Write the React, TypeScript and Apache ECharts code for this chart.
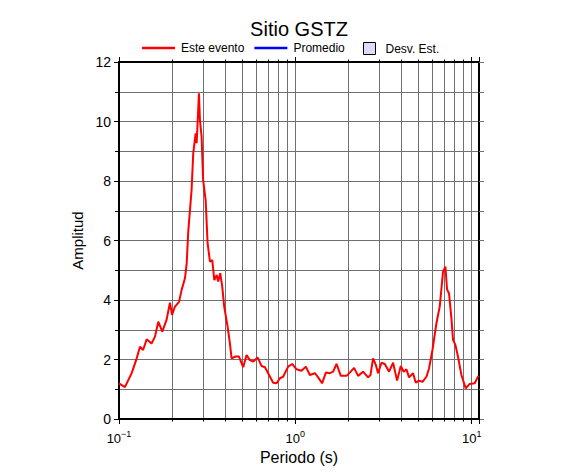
import React, { useEffect, useRef } from "react";
import * as echarts from "echarts";

const TITLE = "Sitio GSTZ";
const SERIES_NAMES = ["Este evento", "Promedio", "Desv. Est."];
const X_NAME = "Periodo (s)";
const Y_NAME = "Amplitud";
const X_MIN = 0.1;
const X_MAX = 11;
const Y_MIN = 0;
const Y_MAX = 12;
const Y_INTERVAL = 2;

const periods = [
  0.1, 0.108, 0.118, 0.126, 0.1315, 0.137, 0.1435, 0.153, 0.16, 0.167, 0.176, 0.186, 0.1945,
  0.2, 0.2076, 0.219, 0.2266, 0.2366, 0.242, 0.247, 0.258, 0.2636, 0.272, 0.2756, 0.279, 0.284,
  0.2877, 0.294, 0.3, 0.31, 0.318, 0.328, 0.338, 0.347, 0.358, 0.365, 0.375, 0.385, 0.395,
  0.413, 0.4255, 0.435, 0.458, 0.479, 0.506, 0.529, 0.552, 0.577, 0.611, 0.6435, 0.672, 0.701,
  0.7485, 0.783, 0.817, 0.853, 0.91, 0.959, 1.016, 1.084, 1.147, 1.208, 1.29, 1.347, 1.418,
  1.489, 1.569, 1.638, 1.712, 1.811, 1.95, 2.036, 2.153, 2.269, 2.422, 2.585, 2.668, 2.759,
  2.858, 2.945, 3.079, 3.215, 3.4, 3.583, 3.775, 3.961, 4.119, 4.266, 4.414, 4.65, 4.817,
  5.029, 5.257, 5.538, 5.73, 5.99, 6.31, 6.588, 6.878, 7.096, 7.246, 7.437, 7.674, 7.837,
  8.085, 8.364, 8.742, 9.247, 9.743, 10.4, 10.91,
];

const amplitudes = [
  1.2, 1.07, 1.54, 2.04, 2.43, 2.32, 2.68, 2.54, 2.77, 3.27, 2.94, 3.33, 3.91,
  3.5, 3.78, 3.94, 4.34, 4.73, 5.23, 6.3, 7.7, 8.93, 9.6, 9.27, 9.94, 10.95,
  10.05, 9.49, 8.03, 7.36, 5.9, 5.29, 5.34, 4.67, 4.84, 4.62, 4.9, 4.45, 3.78,
  3.1, 2.54, 2.04, 2.1, 2.1, 1.74, 2.15, 1.98, 1.93, 2.07, 1.78, 1.74, 1.54,
  1.22, 1.2, 1.37, 1.42, 1.76, 1.85, 1.67, 1.62, 1.76, 1.48, 1.54, 1.4, 1.2,
  1.56, 1.54, 1.59, 1.85, 1.45, 1.45, 1.56, 1.72, 1.45, 1.59, 1.4, 1.48, 2.04,
  1.82, 1.54, 1.89, 1.85, 1.59, 1.89, 1.29, 1.78, 1.59, 1.67, 1.4, 1.54, 1.22,
  1.29, 1.25, 1.42, 1.7, 2.32, 3.22, 3.78, 4.95, 5.12, 4.36, 4.22, 3.38, 2.66,
  2.49, 2.09, 1.48, 1.03, 1.18, 1.2, 1.45,
];

const FONT = "Liberation Sans, Arial, Helvetica, sans-serif";
const GRID_COLOR = "#707070";
const LINE_ICON = "path://M0,0H33V2.5H0Z";

function decadeLabel(v: number): string {
  const l = Math.log10(v);
  const e = Math.round(l);
  if (Math.abs(l - e) > 1e-6) return "";
  const sup = e < 0 ? "\u2212" + String(-e) : String(e);
  return `{b|10}{s|${sup}}`;
}

export default function App() {
  const ref = useRef<HTMLDivElement>(null);

  useEffect(() => {
    document.body.style.margin = "0";
    const chart = echarts.init(ref.current!, null, { renderer: "svg" });

    const data = periods.map((p, i) => [p, amplitudes[i]]);

    const xBase = {
      type: "log" as const,
      logBase: 10,
      min: X_MIN,
      max: X_MAX,
      axisLine: { show: true, onZero: false, lineStyle: { color: "#000", width: 2 } },
      axisTick: { show: true, length: 5, lineStyle: { color: "#000", width: 1 } },
      minorTick: { show: true, splitNumber: 9, length: 2.5, lineStyle: { color: "#000", width: 1 } },
    };

    const yBase = {
      type: "value" as const,
      min: Y_MIN,
      max: Y_MAX,
      interval: Y_INTERVAL,
      axisLine: { show: true, onZero: false, lineStyle: { color: "#000", width: 2 } },
      minorTick: { show: true, splitNumber: 2, length: 4, lineStyle: { color: "#000", width: 1 } },
    };

    chart.setOption({
      animation: false,
      backgroundColor: "#fff",
      textStyle: { fontFamily: FONT },
      title: {
        text: TITLE,
        left: 299,
        top: 19,
        textAlign: "center",
        padding: 0,
        textStyle: { fontFamily: FONT, fontSize: 20, fontWeight: "normal", color: "#000" },
      },
      legend: [
        {
          data: [
            { name: SERIES_NAMES[0], icon: LINE_ICON, itemStyle: { color: "#ff0000" } },
            { name: SERIES_NAMES[1], icon: LINE_ICON, itemStyle: { color: "#0000ff" } },
          ],
          left: 142,
          top: 42,
          padding: 0,
          itemWidth: 33,
          itemHeight: 12,
          itemGap: 10,
          textStyle: { fontFamily: FONT, fontSize: 12, color: "#000", padding: [0, 0, 0, 1] },
        },
        {
          data: [
            {
              name: SERIES_NAMES[2],
              icon: "rect",
              itemStyle: { color: "#dcdcfa", borderColor: "#000", borderWidth: 1 },
            },
          ],
          left: 363,
          top: 42,
          padding: 0,
          itemWidth: 12,
          itemHeight: 12,
          textStyle: { fontFamily: FONT, fontSize: 12, color: "#000", padding: [0, 0, 0, 5] },
        },
      ],
      grid: { left: 119, right: 107, top: 62, bottom: 56, containLabel: false },
      xAxis: [
        {
          ...xBase,
          position: "bottom",
          name: X_NAME,
          nameLocation: "middle",
          nameGap: 28,
          nameTextStyle: { fontFamily: FONT, fontSize: 16, color: "#000" },
          axisLabel: {
            show: true,
            margin: 10,
            formatter: decadeLabel,
            rich: {
              b: { fontFamily: FONT, fontSize: 13, color: "#000", verticalAlign: "bottom", lineHeight: 16 },
              s: { fontFamily: FONT, fontSize: 9, color: "#000", verticalAlign: "bottom", lineHeight: 16, padding: [0, 0, 7, 0] },
            },
          },
          splitLine: { show: true, lineStyle: { color: GRID_COLOR, width: 1 } },
          minorSplitLine: { show: true, lineStyle: { color: GRID_COLOR, width: 1 } },
        },
        {
          ...xBase,
          position: "top",
          axisLabel: { show: false },
          splitLine: { show: false },
          minorSplitLine: { show: false },
        },
      ],
      yAxis: [
        {
          ...yBase,
          position: "left",
          name: Y_NAME,
          nameLocation: "middle",
          nameGap: 27,
          nameTextStyle: { fontFamily: FONT, fontSize: 15, color: "#000" },
          axisTick: { show: true, length: 5, lineStyle: { color: "#000", width: 1 } },
          axisLabel: { show: true, margin: 8, fontFamily: FONT, fontSize: 14, color: "#000" },
          splitLine: { show: true, lineStyle: { color: GRID_COLOR, width: 1 } },
          minorSplitLine: { show: true, lineStyle: { color: GRID_COLOR, width: 1 } },
        },
        {
          ...yBase,
          position: "right",
          axisTick: { show: true, length: 5, lineStyle: { color: GRID_COLOR, width: 1 } },
          minorTick: { show: true, splitNumber: 2, length: 5, lineStyle: { color: GRID_COLOR, width: 1 } },
          axisLabel: { show: false },
          splitLine: { show: false },
          minorSplitLine: { show: false },
        },
      ],
      series: [
        {
          name: SERIES_NAMES[0],
          type: "line",
          xAxisIndex: 0,
          yAxisIndex: 0,
          data,
          symbol: "none",
          showSymbol: false,
          lineStyle: { color: "#ff0000", width: 2 },
          itemStyle: { color: "#ff0000" },
          z: 5,
        },
        {
          name: SERIES_NAMES[1],
          type: "line",
          xAxisIndex: 0,
          yAxisIndex: 0,
          data: [],
          symbol: "none",
          lineStyle: { color: "#0000ff", width: 2 },
          itemStyle: { color: "#0000ff" },
        },
        {
          name: SERIES_NAMES[2],
          type: "line",
          xAxisIndex: 0,
          yAxisIndex: 0,
          data: [],
          symbol: "none",
          lineStyle: { width: 0 },
          areaStyle: { color: "#dcdcfa" },
          itemStyle: { color: "#dcdcfa", borderColor: "#000" },
        },
      ],
    });

    return () => chart.dispose();
  }, []);

  return <div ref={ref} style={{ width: 586, height: 475 }} />;
}
